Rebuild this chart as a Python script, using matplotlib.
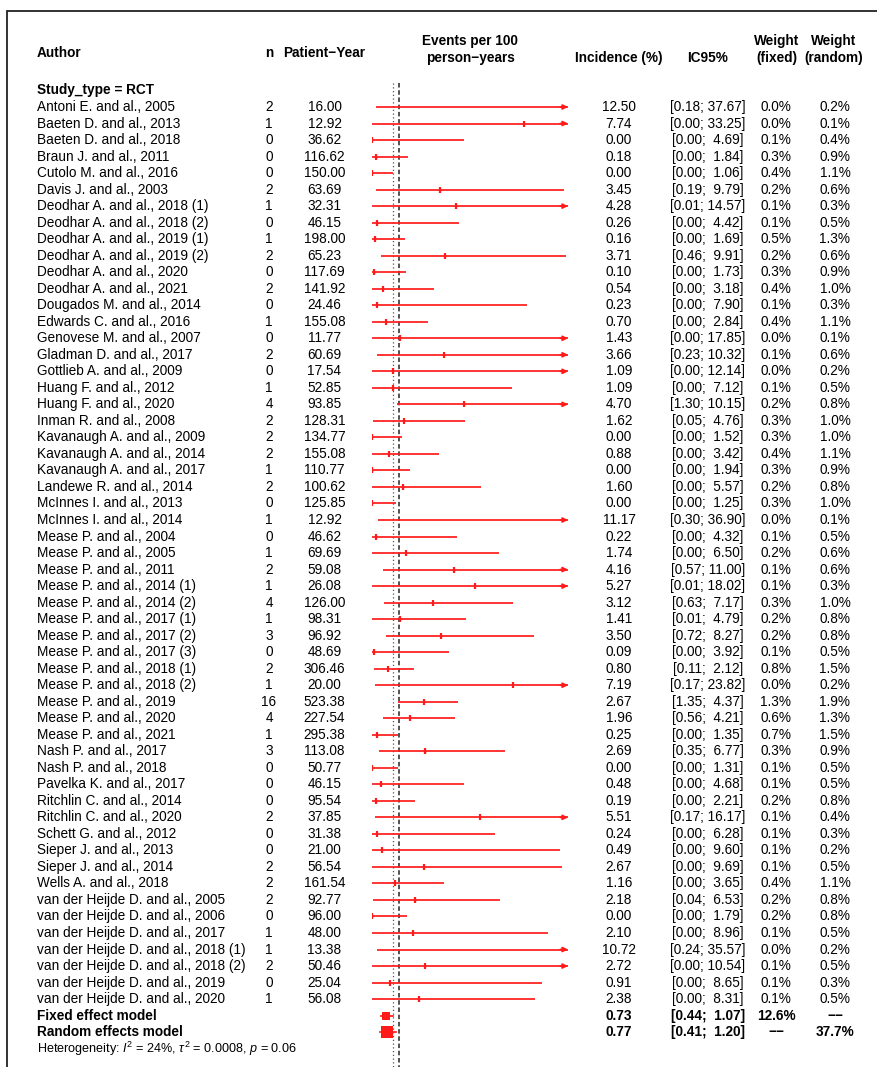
import matplotlib
matplotlib.use('Agg')
import matplotlib.pyplot as plt
from matplotlib import transforms
from matplotlib.patches import Rectangle

plt.rcParams['font.family'] = ['Liberation Sans', 'DejaVu Sans']
plt.rcParams['mathtext.fontset'] = 'custom'
plt.rcParams['mathtext.rm'] = 'Liberation Sans'
plt.rcParams['mathtext.it'] = 'Liberation Sans:italic'

# Données des études
authors = [
    'Antoni E. and al., 2005', 'Baeten D. and al., 2013', 'Baeten D. and al., 2018',
    'Braun J. and al., 2011', 'Cutolo M. and al., 2016', 'Davis J. and al., 2003',
    'Deodhar A. and al., 2018 (1)', 'Deodhar A. and al., 2018 (2)',
    'Deodhar A. and al., 2019 (1)', 'Deodhar A. and al., 2019 (2)',
    'Deodhar A. and al., 2020', 'Deodhar A. and al., 2021', 'Dougados M. and al., 2014',
    'Edwards C. and al., 2016', 'Genovese M. and al., 2007', 'Gladman D. and al., 2017',
    'Gottlieb A. and al., 2009', 'Huang F. and al., 2012', 'Huang F. and al., 2020',
    'Inman R. and al., 2008', 'Kavanaugh A. and al., 2009', 'Kavanaugh A. and al., 2014',
    'Kavanaugh A. and al., 2017', 'Landewe R. and al., 2014', 'McInnes I. and al., 2013',
    'McInnes I. and al., 2014', 'Mease P. and al., 2004', 'Mease P. and al., 2005',
    'Mease P. and al., 2011', 'Mease P. and al., 2014 (1)', 'Mease P. and al., 2014 (2)',
    'Mease P. and al., 2017 (1)', 'Mease P. and al., 2017 (2)', 'Mease P. and al., 2017 (3)',
    'Mease P. and al., 2018 (1)', 'Mease P. and al., 2018 (2)', 'Mease P. and al., 2019',
    'Mease P. and al., 2020', 'Mease P. and al., 2021', 'Nash P. and al., 2017',
    'Nash P. and al., 2018', 'Pavelka K. and al., 2017', 'Ritchlin C. and al., 2014',
    'Ritchlin C. and al., 2020', 'Schett G. and al., 2012', 'Sieper J. and al., 2013',
    'Sieper J. and al., 2014', 'Wells A. and al., 2018',
    'van der Heijde D. and al., 2005', 'van der Heijde D. and al., 2006',
    'van der Heijde D. and al., 2017', 'van der Heijde D. and al., 2018 (1)',
    'van der Heijde D. and al., 2018 (2)', 'van der Heijde D. and al., 2019',
    'van der Heijde D. and al., 2020',
]
n_events = [2, 1, 0, 0, 0, 2, 1, 0, 1, 2, 0, 2, 0, 1, 0, 2, 0, 1, 4, 2, 2, 2, 1, 2, 0,
            1, 0, 1, 2, 1, 4, 1, 3, 0, 2, 1, 16, 4, 1, 3, 0, 0, 0, 2, 0, 0, 2, 2,
            2, 0, 1, 1, 2, 0, 1]
patient_years = [16.00, 12.92, 36.62, 116.62, 150.00, 63.69, 32.31, 46.15, 198.00, 65.23,
                 117.69, 141.92, 24.46, 155.08, 11.77, 60.69, 17.54, 52.85, 93.85, 128.31,
                 134.77, 155.08, 110.77, 100.62, 125.85, 12.92, 46.62, 69.69, 59.08, 26.08,
                 126.00, 98.31, 96.92, 48.69, 306.46, 20.00, 523.38, 227.54, 295.38, 113.08,
                 50.77, 46.15, 95.54, 37.85, 31.38, 21.00, 56.54, 161.54,
                 92.77, 96.00, 48.00, 13.38, 50.46, 25.04, 56.08]
incidence = [12.50, 7.74, 0.00, 0.18, 0.00, 3.45, 4.28, 0.26, 0.16, 3.71,
             0.10, 0.54, 0.23, 0.70, 1.43, 3.66, 1.09, 1.09, 4.70, 1.62,
             0.00, 0.88, 0.00, 1.60, 0.00, 11.17, 0.22, 1.74, 4.16, 5.27,
             3.12, 1.41, 3.50, 0.09, 0.80, 7.19, 2.67, 1.96, 0.25, 2.69,
             0.00, 0.48, 0.19, 5.51, 0.24, 0.49, 2.67, 1.16,
             2.18, 0.00, 2.10, 10.72, 2.72, 0.91, 2.38]
ci_low = [0.18, 0.00, 0.00, 0.00, 0.00, 0.19, 0.01, 0.00, 0.00, 0.46,
          0.00, 0.00, 0.00, 0.00, 0.00, 0.23, 0.00, 0.00, 1.30, 0.05,
          0.00, 0.00, 0.00, 0.00, 0.00, 0.30, 0.00, 0.00, 0.57, 0.01,
          0.63, 0.01, 0.72, 0.00, 0.11, 0.17, 1.35, 0.56, 0.00, 0.35,
          0.00, 0.00, 0.00, 0.17, 0.00, 0.00, 0.00, 0.00,
          0.04, 0.00, 0.00, 0.24, 0.00, 0.00, 0.00]
ci_high = [37.67, 33.25, 4.69, 1.84, 1.06, 9.79, 14.57, 4.42, 1.69, 9.91,
           1.73, 3.18, 7.90, 2.84, 17.85, 10.32, 12.14, 7.12, 10.15, 4.76,
           1.52, 3.42, 1.94, 5.57, 1.25, 36.90, 4.32, 6.50, 11.00, 18.02,
           7.17, 4.79, 8.27, 3.92, 2.12, 23.82, 4.37, 4.21, 1.35, 6.77,
           1.31, 4.68, 2.21, 16.17, 6.28, 9.60, 9.69, 3.65,
           6.53, 1.79, 8.96, 35.57, 10.54, 8.65, 8.31]
w_fixed = [0.0, 0.0, 0.1, 0.3, 0.4, 0.2, 0.1, 0.1, 0.5, 0.2,
           0.3, 0.4, 0.1, 0.4, 0.0, 0.1, 0.0, 0.1, 0.2, 0.3,
           0.3, 0.4, 0.3, 0.2, 0.3, 0.0, 0.1, 0.2, 0.1, 0.1,
           0.3, 0.2, 0.2, 0.1, 0.8, 0.0, 1.3, 0.6, 0.7, 0.3,
           0.1, 0.1, 0.2, 0.1, 0.1, 0.1, 0.1, 0.4,
           0.2, 0.2, 0.1, 0.0, 0.1, 0.1, 0.1]
w_random = [0.2, 0.1, 0.4, 0.9, 1.1, 0.6, 0.3, 0.5, 1.3, 0.6,
            0.9, 1.0, 0.3, 1.1, 0.1, 0.6, 0.2, 0.5, 0.8, 1.0,
            1.0, 1.1, 0.9, 0.8, 1.0, 0.1, 0.5, 0.6, 0.6, 0.3,
            1.0, 0.8, 0.8, 0.5, 1.5, 0.2, 1.9, 1.3, 1.5, 0.9,
            0.5, 0.5, 0.8, 0.4, 0.3, 0.2, 0.5, 1.1,
            0.8, 0.8, 0.5, 0.2, 0.5, 0.3, 0.5]

# Modèles poolés
models = ['Fixed effect model', 'Random effects model']
model_est = [0.73, 0.77]
model_low = [0.44, 0.41]
model_high = [1.07, 1.20]
model_wf = ['12.6%', '\u2212\u2212']
model_wr = ['\u2212\u2212', '37.7%']
model_size = [12.6, 37.7]
heterogeneity = r'Heterogeneity: $I^2$ = 24%, $\tau^2$ = 0.0008, $p$ = 0.06'

ref_dotted = 1.09
ref_dashed = 1.40
x_max = 10

# Mise en page (pixels)
W, H = 878, 1067
row0, row_h = 107, 16.52
fs = 9.8
red = '#ff1a1a'


def row_of(px):
    return (px - row0) / row_h


fig = plt.figure(figsize=(W / 100, H / 100), dpi=100)
ax = fig.add_axes([372 / W, 0, 196 / W, 1])
ax.set_xlim(0, x_max)
ax.set_ylim(row_of(H), row_of(0))
ax.axis('off')
tr = transforms.blended_transform_factory(fig.transFigure, ax.transData)


def txt(xpx, y, s, ha='center', bold=False, size=fs):
    fig.text(xpx / W, y, s, transform=tr, ha=ha, va='center', fontsize=size,
             fontweight='bold' if bold else 'normal')


# Cadre
fig.patches.append(Rectangle((7.5 / W, -0.1), 1.2, (H - 11) / H + 0.1,
                             transform=fig.transFigure, fill=False,
                             edgecolor='#222222', lw=1.3))

# En-têtes
txt(37, row_of(53), 'Author', ha='left', bold=True)
txt(269, row_of(53), 'n', bold=True)
txt(324.5, row_of(53), 'Patient\u2212Year', bold=True)
txt(470, row_of(41.5), 'Events per 100', bold=True)
txt(470, row_of(58), 'person\u2212years', bold=True)
txt(619, row_of(58), 'Incidence (%)', bold=True)
txt(708, row_of(58), 'IC95%', bold=True)
txt(777, row_of(41), 'Weight', bold=True)
txt(777, row_of(58), '(fixed)', bold=True)
txt(834, row_of(41.5), 'Weight', bold=True)
txt(834, row_of(58), '(random)', bold=True)
txt(37, -1, 'Study_type = RCT', ha='left', bold=True)

# Lignes de référence
y_top, y_bot = row_of(83), row_of(H)
ax.plot([ref_dotted, ref_dotted], [y_top, y_bot], color='#555555', lw=0.9,
        ls=(0, (1, 2)), zorder=1)
ax.plot([ref_dashed, ref_dashed], [y_top, y_bot], color='#444444', lw=1.3,
        ls=(0, (2.5, 1.5)), zorder=1)

# Études
for i, name in enumerate(authors):
    txt(37, i, name, ha='left')
    txt(269, i, str(n_events[i]))
    txt(324.5, i, f'{patient_years[i]:.2f}')
    txt(619, i, f'{incidence[i]:.2f}')
    txt(708, i, f'[{ci_low[i]:.2f}; {ci_high[i]:5.2f}]')
    txt(776, i, f'{w_fixed[i]:.1f}%')
    txt(835, i, f'{w_random[i]:.1f}%')

    hi = min(ci_high[i], x_max)
    ax.plot([ci_low[i], hi], [i, i], color=red, lw=1.25, solid_capstyle='butt',
            zorder=2)
    if ci_high[i] > x_max:
        ax.annotate('', xy=(x_max, i), xytext=(x_max - 0.4, i),
                    arrowprops=dict(arrowstyle='-|>', color=red, lw=1.25,
                                    mutation_scale=7, shrinkA=0, shrinkB=0))
    if incidence[i] <= x_max:
        ax.plot(incidence[i], i, marker='|', ms=4, mew=1.6, color=red, zorder=3)
        ax.plot(incidence[i], i, marker='s', ms=1.45 * w_random[i] ** 0.5,
                mew=0, color=red, zorder=3)

# Modèles
n_st = len(authors)
for k, name in enumerate(models):
    y = n_st + k
    txt(37, y, name, ha='left', bold=True)
    txt(619, y, f'{model_est[k]:.2f}', bold=True)
    txt(708, y, f'[{model_low[k]:.2f}; {model_high[k]:5.2f}]', bold=True)
    txt(776, y, model_wf[k], bold=True)
    txt(835, y, model_wr[k], bold=True)
    ax.plot([model_low[k], model_high[k]], [y, y], color=red, lw=1.25, zorder=2)
    ax.plot(model_est[k], y, marker='s', ms=1.45 * model_size[k] ** 0.5,
            mew=0, color=red, zorder=3)

txt(37, n_st + 2, heterogeneity, ha='left', size=9.1)

fig.savefig('out.png', dpi=100)
